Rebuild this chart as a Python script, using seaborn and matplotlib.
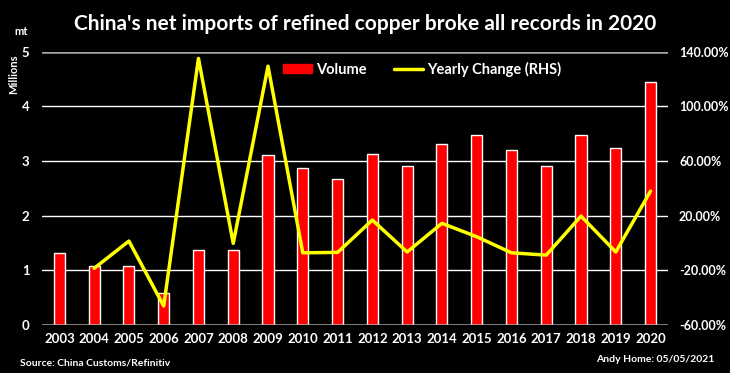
import numpy as np
import pandas as pd
import seaborn as sns
import matplotlib.pyplot as plt
from matplotlib.patches import Patch
from matplotlib.lines import Line2D

# net imports of refined copper, million tonnes
years = [2003, 2004, 2005, 2006, 2007, 2008, 2009, 2010, 2011, 2012,
         2013, 2014, 2015, 2016, 2017, 2018, 2019, 2020]
volume = [1.32, 1.075, 1.075, 0.58, 1.37, 1.37, 3.11, 2.88, 2.67, 3.13,
          2.91, 3.32, 3.47, 3.21, 2.91, 3.47, 3.24, 4.45]
# yearly change in percent (RHS), no value for first year
yearly_change = [np.nan, -18.7, 1.3, -46.3, 135.2, -0.4, 129.5, -7.3, -7.0, 16.7,
                 -6.7, 14.3, 4.5, -7.3, -9.0, 19.6, -6.7, 37.9]

df = pd.DataFrame({'Year': [str(y) for y in years], 'Volume': volume,
                   'Change': yearly_change})
df['pos'] = np.arange(len(df))

sns.set_style('dark')
plt.rcParams['font.family'] = ['Lato', 'DejaVu Sans']
plt.rcParams['font.weight'] = 'bold'

fig = plt.figure(figsize=(7.3, 3.73), dpi=100, facecolor='black')
ax = fig.add_axes([0.0575, 0.1295, 0.8575, 0.7315])
ax.set_facecolor('black')

sns.barplot(data=df, x='Year', y='Volume', color='#ff0000', saturation=1,
            width=0.32, ax=ax, zorder=3)
ax.set_ylim(0, 5)
ax.set_xlim(-0.5, len(df) - 0.5)
ax.set_yticks([0, 1, 2, 3, 4, 5])
ax.grid(False)
for v in [1, 2, 3, 4]:
    ax.axhline(v, color='white', lw=1, zorder=1)
for v in [0, 5]:
    ax.axhline(v, color='#a6a6a6', lw=1.8, zorder=4)
for s in ax.spines.values():
    s.set_visible(False)
ax.set_xlabel('')
ax.set_ylabel('')
ax.tick_params(colors='white', labelsize=9.5, length=0, pad=6)
ax.tick_params(axis='y', pad=9)
for lab in ax.get_xticklabels() + ax.get_yticklabels():
    lab.set_fontweight('bold')

ax2 = ax.twinx()
sns.lineplot(data=df, x='pos', y='Change', color='#ffff00', lw=2.5, ax=ax2, zorder=5)
ax2.set_ylim(-60, 140)
ax2.set_yticks([-60, -20, 20, 60, 100, 140])
ax2.set_yticklabels([f'{t:.2f}%' for t in [-60, -20, 20, 60, 100, 140]])
ax2.grid(False)
for s in ax2.spines.values():
    s.set_visible(False)
ax2.set_ylabel('')
ax2.set_xlabel('')
ax2.tick_params(colors='white', labelsize=9, length=0, pad=8)
for lab in ax2.get_yticklabels():
    lab.set_fontweight('bold')

handles = [Patch(color='#ff0000'), Line2D([0], [0], color='#ffff00', lw=2.5)]
leg = ax.legend(handles, ['Volume', 'Yearly Change (RHS)'], loc='upper center',
                bbox_to_anchor=(0.607, 1.012), ncol=2, frameon=False,
                fontsize=10.5, handlelength=2.0, handleheight=0.6, columnspacing=1.9,
                handletextpad=0.25)
for t in leg.get_texts():
    t.set_color('white')
    t.set_fontweight('bold')

fig.text(0.5, 0.935, "China's net imports of refined copper broke all records in 2020",
         color='white', fontsize=15, fontweight='bold', ha='center', va='center')
fig.text(0.029, 0.915, 'mt', color='white', fontsize=8, fontweight='bold',
         ha='center', va='center')
fig.text(0.019, 0.80, 'Millions', color='white', fontsize=8, fontweight='bold',
         ha='center', va='center', rotation=90)
fig.text(0.028, 0.027, 'Source: China Customs/Refinitiv', color='white', fontsize=7.5,
         fontweight='bold', ha='left', va='center')
fig.text(0.978, 0.037, 'Andy Home: 05/05/2021', color='white', fontsize=7.5,
         fontweight='bold', ha='right', va='center')

fig.savefig('out.png', dpi=100, facecolor='black')
